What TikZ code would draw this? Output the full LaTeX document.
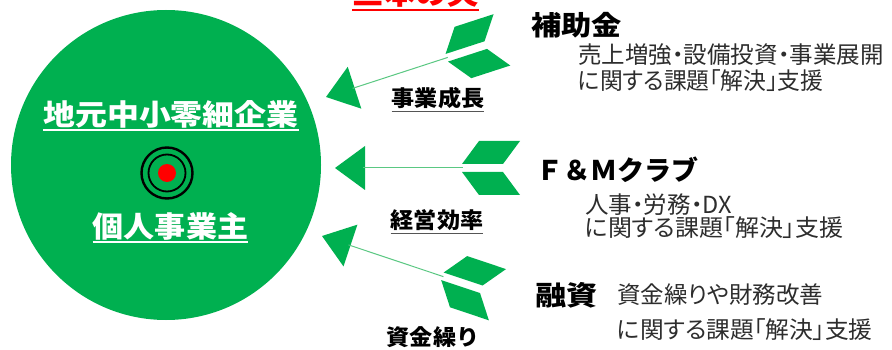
\documentclass[tikz,border=0pt]{standalone}
\usepackage{fontspec}
\newfontfamily\jp{Noto Sans CJK JP}
\newfontfamily\jpp[CharacterWidth=AlternateProportional]{Noto Sans CJK JP}
\definecolor{cgreen}{RGB}{0,176,80}
\definecolor{shaftgreen}{RGB}{90,200,130}
\definecolor{bodygray}{RGB}{45,45,45}
\definecolor{ulgray}{RGB}{85,85,85}
\definecolor{titlered}{RGB}{255,0,0}
\newcommand\hwide[2]{\scalebox{#1}[1]{#2}}
\newcommand\yarrow[2]{%
  \begin{scope}[shift={(#1)}, rotate=#2]
    \fill[cgreen] (0,0) -- (30,22) -- (30,-22) -- cycle;
    \draw[shaftgreen, line width=1pt] (28,0) -- (128,0);
    \fill[cgreen] (127,4) -- (168,4) -- (185,27) -- (144,27) -- cycle;
    \fill[cgreen] (127,-4) -- (168,-4) -- (185,-27) -- (144,-27) -- cycle;
  \end{scope}}
\tikzset{
  whitetxt/.style={text=white, font=\jp\bfseries\fontsize{29}{32}\selectfont, inner sep=0pt},
  hdr/.style={text=black, font=\jp\bfseries\fontsize{27}{30}\selectfont, inner sep=0pt, anchor=west},
  body/.style={text=bodygray, font=\jpp\fontsize{23.5}{26}\selectfont, inner sep=0pt, anchor=west},
  lbl/.style={text=black, font=\jp\bfseries\fontsize{22}{24}\selectfont, inner sep=0pt},
  titletxt/.style={text=titlered, font=\jp\bfseries\fontsize{30}{32}\selectfont, inner sep=0pt},
  wul/.style={white, line width=1.5pt},
  gul/.style={ulgray, line width=1.3pt},
}
\begin{document}
\begin{tikzpicture}[x=1pt, y=-1pt]
\useasboundingbox (0,0) rectangle (892,350);
\clip (0,0) rectangle (892,350);
\fill[white] (0,0) rectangle (892,350);

% title (cut off at top, as in the reference)
\node[titletxt, anchor=south] (title) at (415.5,8) {\hwide{1.05}{三本の矢}};
\draw[titlered, line width=2pt] ([yshift=-2pt]title.south west) -- ([yshift=-2pt]title.south east);

% big circle
\node[circle, fill=cgreen, minimum size=310pt, inner sep=0pt] (target) at (166,165) {};
\node[whitetxt] (t1) at (171,114) {\hwide{1.1}{地元中小零細企業}};
\draw[wul] ([yshift=-2pt]t1.south west) -- ([yshift=-2pt]t1.south east);
\node[whitetxt] (t2) at (170.5,226) {\hwide{1.07}{個人事業主}};
\draw[wul] ([yshift=-2pt]t2.south west) -- ([yshift=-2pt]t2.south east);

% bullseye
\coordinate (bc) at (167,173);
\draw[black, line width=2.4pt] (bc) circle[radius=25.5pt];
\draw[black, line width=1.8pt] (bc) circle[radius=18.5pt];
\fill[red] (bc) circle[radius=9pt];

% arrows
\coordinate (tip1) at (326,97);
\coordinate (tip2) at (335,168);
\coordinate (tip3) at (322,236);
\yarrow{tip1}{18}
\yarrow{tip2}{0}
\yarrow{tip3}{-18.5}

% arrow labels
\node[lbl] (l1) at (438,98) {\hwide{1.05}{事業成長}};
\draw[gul] ([yshift=-2.5pt]l1.south west) -- ([yshift=-2.5pt]l1.south east);
\node[lbl] (l2) at (437,220) {\hwide{1.05}{経営効率}};
\draw[gul] ([yshift=-2.5pt]l2.south west) -- ([yshift=-2.5pt]l2.south east);
\node[lbl] (l3) at (433,337) {\hwide{1.05}{資金繰り}};
\draw[gul] ([yshift=-2.5pt]l3.south west) -- ([yshift=-2.5pt]l3.south east);

% right texts
\node[hdr] (h1) at (531,25) {\hwide{1.12}{補助金}};
\node[body] (b1a) at (578,55) {売上増強・設備投資・事業展開};
\node[body] (b1b) at (578,81) {\hwide{0.97}{に関する課題「解決」支援}};

\node[hdr] (h2) at (536,170) {Ｆ＆Ｍクラブ};
\node[body] (b2a) at (585,205) {人事・労務・DX};
\node[body] (b2b) at (585,228) {\hwide{1.02}{に関する課題「解決」支援}};

\node[hdr] (h3) at (535,295) {\hwide{1.15}{融資}};
\node[body] (b3a) at (617,295) {資金繰りや財務改善};
\node[body] (b3b) at (617,330) {\hwide{1.01}{に関する課題「解決」支援}};
\end{tikzpicture}
\end{document}
